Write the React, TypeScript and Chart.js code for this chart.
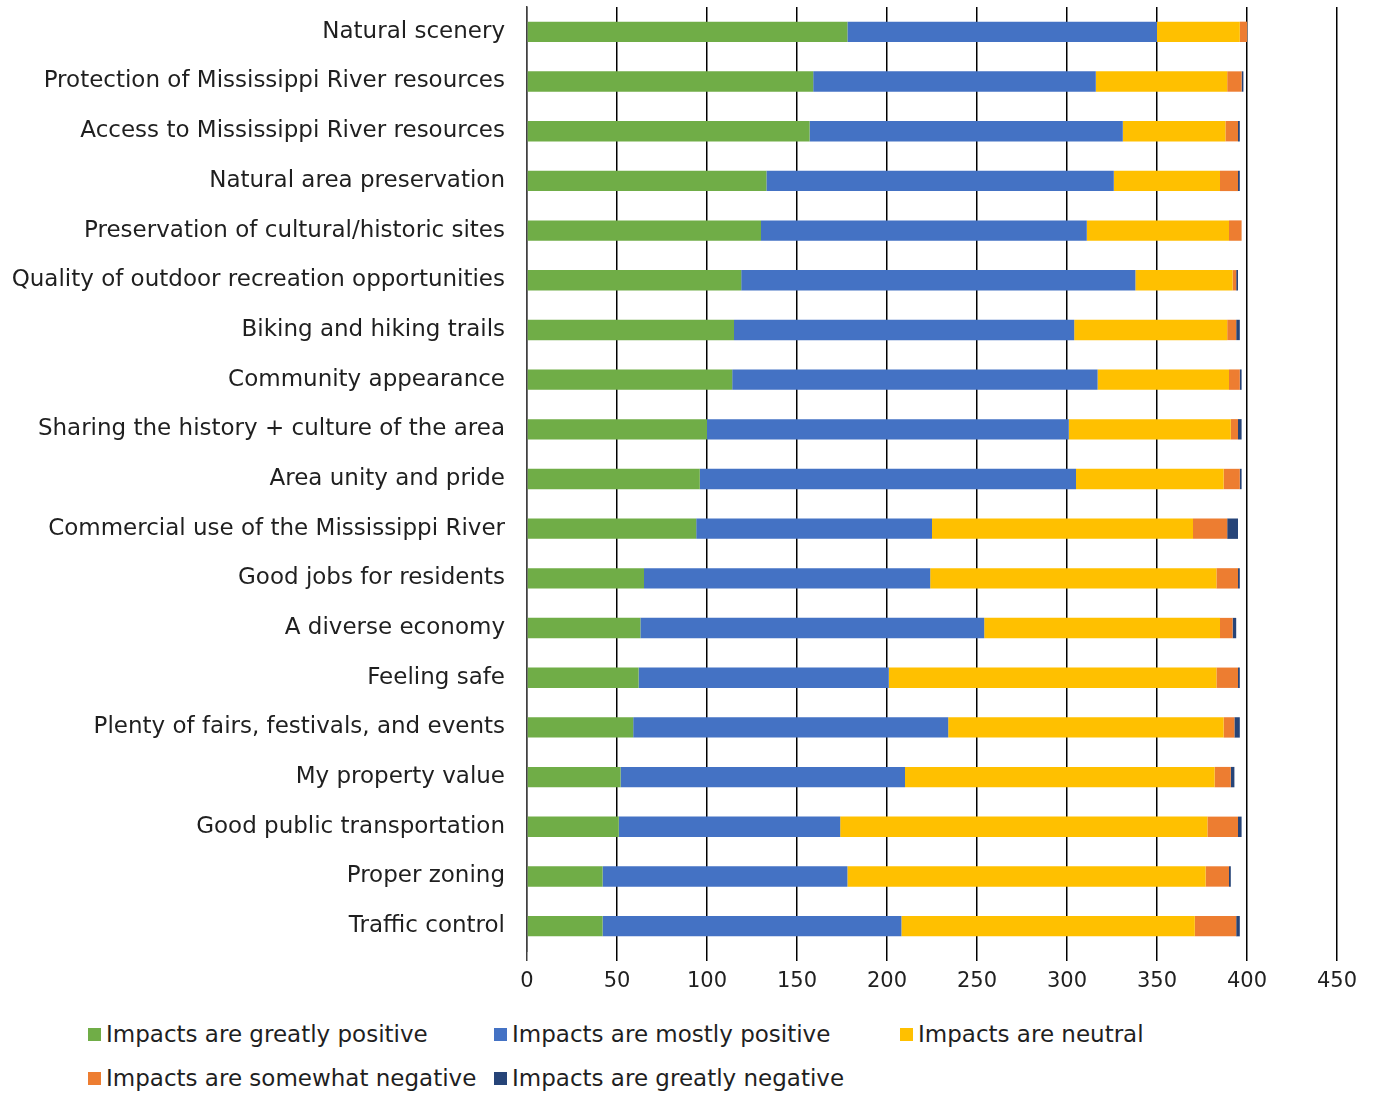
import React, { useEffect, useRef } from "react";
import { Chart, registerables } from "chart.js";
Chart.register(...registerables);

const categories = [
  "Natural scenery",
  "Protection of Mississippi River resources",
  "Access to Mississippi River resources",
  "Natural area preservation",
  "Preservation of cultural/historic sites",
  "Quality of outdoor recreation opportunities",
  "Biking and hiking trails",
  "Community appearance",
  "Sharing the history + culture of the area",
  "Area unity and pride",
  "Commercial use of the Mississippi River",
  "Good jobs for residents",
  "A diverse economy",
  "Feeling safe",
  "Plenty of fairs, festivals, and events",
  "My property value",
  "Good public transportation",
  "Proper zoning",
  "Traffic control",
];

const greatlyPositive = [178, 159, 157, 133, 130, 119, 115, 114, 100, 96, 94, 65, 63, 62, 59, 52, 51, 42, 42];
const mostlyPositive = [172, 157, 174, 193, 181, 219, 189, 203, 201, 209, 131, 159, 191, 139, 175, 158, 123, 136, 166];
const neutral = [46, 73, 57, 59, 79, 54, 85, 73, 90, 82, 145, 159, 131, 182, 153, 172, 204, 199, 163];
const somewhatNegative = [4, 8, 7, 10, 7, 2, 5, 6, 4, 9, 19, 12, 7, 12, 6, 9, 17, 13, 23];
const greatlyNegative = [0, 1, 1, 1, 0, 1, 2, 1, 2, 1, 6, 1, 2, 1, 3, 2, 2, 1, 2];

const seriesNames = [
  "Impacts are greatly positive",
  "Impacts are mostly positive",
  "Impacts are neutral",
  "Impacts are somewhat negative",
  "Impacts are greatly negative",
];
const seriesColors = ["#70AD47", "#4472C4", "#FFC000", "#ED7D31", "#264478"];
const seriesData = [greatlyPositive, mostlyPositive, neutral, somewhatNegative, greatlyNegative];

const xMin = 0;
const xMax = 450;
const xStep = 50;

const FONT = "'DejaVu Sans', sans-serif";
const TEXT_COLOR = "#1f1f1f";

export default function App() {
  const ref = useRef<HTMLCanvasElement>(null);

  useEffect(() => {
    document.body.style.margin = "0";
    const chart = new Chart(ref.current!, {
      type: "bar",
      data: {
        labels: categories,
        datasets: seriesNames.map((name, i) => ({
          label: name,
          data: seriesData[i],
          backgroundColor: seriesColors[i],
          borderWidth: 0,
          barPercentage: 0.41,
          categoryPercentage: 1,
        })),
      },
      options: {
        indexAxis: "y",
        responsive: false,
        animation: false,
        layout: { padding: { top: 7, right: 38, left: 0, bottom: 0 } },
        plugins: {
          legend: { display: false },
          tooltip: { enabled: false },
        },
        scales: {
          x: {
            stacked: true,
            min: xMin,
            max: xMax,
            ticks: {
              stepSize: xStep,
              color: TEXT_COLOR,
              font: { family: FONT, size: 21 },
              padding: 8,
            },
            grid: {
              color: (ctx: any) => (ctx.tick && ctx.tick.value === 0 ? "#404040" : "#000000"),
              lineWidth: 1.5,
              tickLength: 10,
              drawOnChartArea: true,
            },
            border: { display: false },
            afterFit: (scale: any) => {
              scale.height = 49;
              scale.paddingLeft = 0;
              scale.paddingRight = 0;
            },
          },
          y: {
            stacked: true,
            ticks: {
              color: TEXT_COLOR,
              font: { family: FONT, size: 23 },
              padding: 22,
              autoSkip: false,
            },
            grid: { display: false, drawTicks: false },
            border: { display: true, color: "#404040", width: 1.5 },
            afterFit: (scale: any) => {
              scale.width = 527;
              scale.paddingTop = 0;
              scale.paddingBottom = 0;
            },
          },
        },
      },
    });
    return () => chart.destroy();
  }, []);

  const legendRows = [
    [0, 1, 2],
    [3, 4],
  ];

  return (
    <div style={{ position: "relative", width: 1375, height: 1093, background: "#fff", fontFamily: FONT }}>
      <canvas ref={ref} width={1375} height={1000} style={{ position: "absolute", left: 0, top: 0 }} />
      {legendRows.map((row, r) => (
        <div key={r} style={{ position: "absolute", left: 88, top: 1020 + r * 44, display: "flex" }}>
          {row.map((i) => (
            <div key={i} style={{ width: 406, display: "flex", alignItems: "center", height: 28 }}>
              <span
                style={{
                  display: "inline-block",
                  width: 13,
                  height: 13,
                  background: seriesColors[i],
                  marginRight: 5,
                  flex: "none",
                }}
              />
              <span style={{ fontSize: 23, color: TEXT_COLOR, whiteSpace: "nowrap" }}>{seriesNames[i]}</span>
            </div>
          ))}
        </div>
      ))}
    </div>
  );
}
